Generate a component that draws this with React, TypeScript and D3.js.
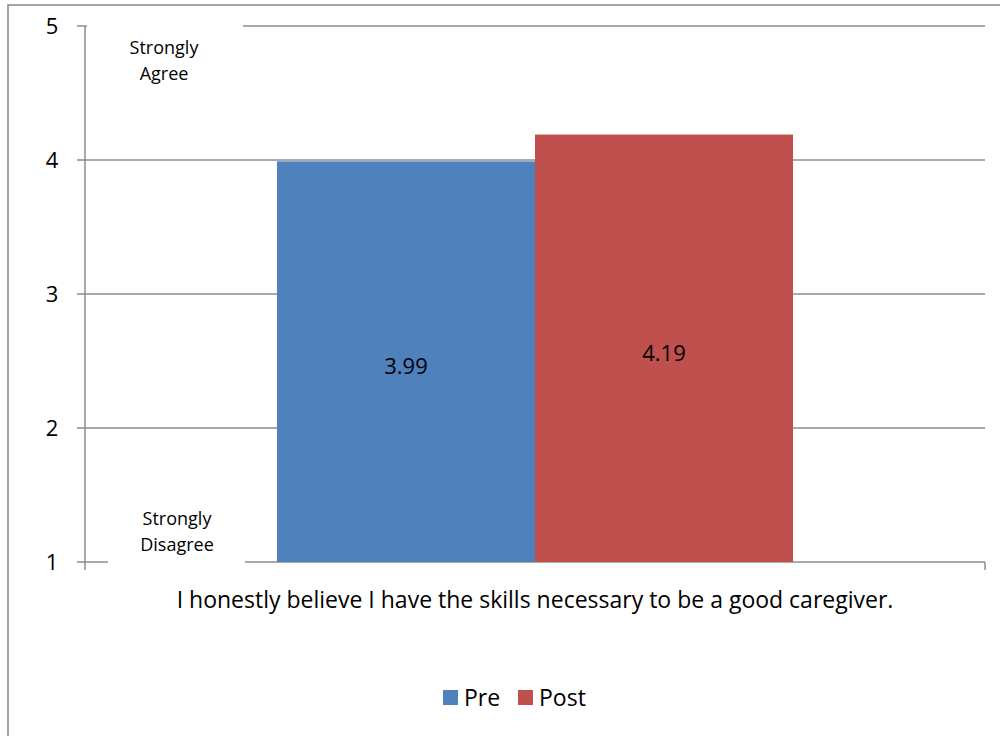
import React, { useEffect, useRef } from 'react';
import * as d3 from 'd3';

const category = 'I honestly believe I have the skills necessary to be a good caregiver.';
const seriesNames = ['Pre', 'Post'];
const seriesValues = [3.99, 4.19];
const seriesColors = ['#4f81bd', '#c0504d'];
const yTicks = [1, 2, 3, 4, 5];
const topNote = ['Strongly', 'Agree'];
const bottomNote = ['Strongly', 'Disagree'];

const FONT = '"Open Sans", Lato, sans-serif';

const App = () => {
  const svgRef = useRef<SVGSVGElement>(null);

  useEffect(() => {
    const svg = d3.select(svgRef.current);
    svg.selectAll('*').remove();

    const W = 1000, H = 736;
    const left = 85, right = 985, top = 26, bottom = 562;

    // outer chart border (cropped on right / bottom)
    svg.append('path')
      .attr('d', `M8,${H} L8,5 L${W},5`)
      .attr('fill', 'none')
      .attr('stroke', '#868686')
      .attr('stroke-width', 1.5);

    const y = d3.scaleLinear().domain([1, 5]).range([bottom, top]);
    const x0 = d3.scaleBand().domain([category]).range([left, right]).paddingInner(0).paddingOuter(0.372);
    const x1 = d3.scaleBand().domain(seriesNames).range([0, x0.bandwidth()]);

    // gridlines
    svg.append('g')
      .selectAll('line')
      .data(yTicks.filter(t => t > 1))
      .enter().append('line')
      .attr('x1', left).attr('x2', right)
      .attr('y1', d => y(d)).attr('y2', d => y(d))
      .attr('stroke', '#8c8c8c')
      .attr('stroke-width', 1.5);

    // y axis line + ticks
    svg.append('line')
      .attr('x1', left).attr('x2', left)
      .attr('y1', top).attr('y2', bottom + 8)
      .attr('stroke', '#8c8c8c').attr('stroke-width', 1.5);
    svg.append('g')
      .selectAll('line')
      .data(yTicks)
      .enter().append('line')
      .attr('x1', left - 8).attr('x2', left)
      .attr('y1', d => y(d)).attr('y2', d => y(d))
      .attr('stroke', '#8c8c8c').attr('stroke-width', 1.5);
    svg.append('g')
      .selectAll('text')
      .data(yTicks)
      .enter().append('text')
      .attr('x', 52).attr('y', d => y(d))
      .attr('dy', '0.35em')
      .attr('text-anchor', 'middle')
      .style('font-family', FONT)
      .style('font-size', '22px')
      .text(d => d);

    // x axis
    svg.append('line')
      .attr('x1', left).attr('x2', right)
      .attr('y1', bottom).attr('y2', bottom)
      .attr('stroke', '#8c8c8c').attr('stroke-width', 1.5);
    svg.append('line')
      .attr('x1', right).attr('x2', right)
      .attr('y1', bottom).attr('y2', bottom + 8)
      .attr('stroke', '#8c8c8c').attr('stroke-width', 1.5);

    // note boxes
    const note = (lines: string[], cx: number, y0: number, bx: number, bw: number, by: number, bh: number) => {
      svg.append('rect').attr('x', bx).attr('y', by).attr('width', bw).attr('height', bh).attr('fill', '#fff');
      svg.append('g').selectAll('text')
        .data(lines)
        .enter().append('text')
        .attr('x', cx)
        .attr('y', (d, i) => y0 + i * 26)
        .attr('dy', '0.35em')
        .attr('text-anchor', 'middle')
        .style('font-family', FONT)
        .style('font-size', '18px')
        .text(d => d);
    };
    note(topNote, 164, 48, 87, 156, 20, 70);
    note(bottomNote, 177, 519, 108, 137, 500, 63);

    // bars
    const g = svg.append('g').attr('transform', `translate(${x0(category)},0)`);
    g.selectAll('rect')
      .data(seriesValues)
      .enter().append('rect')
      .attr('x', (d, i) => x1(seriesNames[i]))
      .attr('y', d => y(d))
      .attr('width', x1.bandwidth())
      .attr('height', d => y(1) - y(d))
      .attr('fill', (d, i) => seriesColors[i]);

    g.selectAll('text')
      .data(seriesValues)
      .enter().append('text')
      .attr('x', (d, i) => x1(seriesNames[i]) + x1.bandwidth() / 2)
      .attr('y', d => (y(d) + y(1)) / 2 + 5)
      .attr('dy', '0.35em')
      .attr('text-anchor', 'middle')
      .style('font-family', FONT)
      .style('font-size', '22px')
      .text(d => d.toFixed(2));

    // category label
    svg.append('text')
      .attr('x', (left + right) / 2)
      .attr('y', 600)
      .attr('dy', '0.35em')
      .attr('text-anchor', 'middle')
      .style('font-family', FONT)
      .style('font-size', '23px')
      .text(category);

    // legend
    const legendX = [443, 518];
    const lg = svg.append('g').selectAll('g')
      .data(seriesNames)
      .enter().append('g')
      .attr('transform', (d, i) => `translate(${legendX[i]},690)`);
    lg.append('rect')
      .attr('width', 15).attr('height', 15)
      .attr('fill', (d, i) => seriesColors[i]);
    lg.append('text')
      .attr('x', 21).attr('y', 8)
      .attr('dy', '0.35em')
      .style('font-family', FONT)
      .style('font-size', '23px')
      .text(d => d);

    svg.attr('width', W).attr('height', H);
  }, []);

  return (
    <svg ref={svgRef} style={{ position: 'absolute', left: 0, top: 0, background: '#fff' }} />
  );
};

export default App;
